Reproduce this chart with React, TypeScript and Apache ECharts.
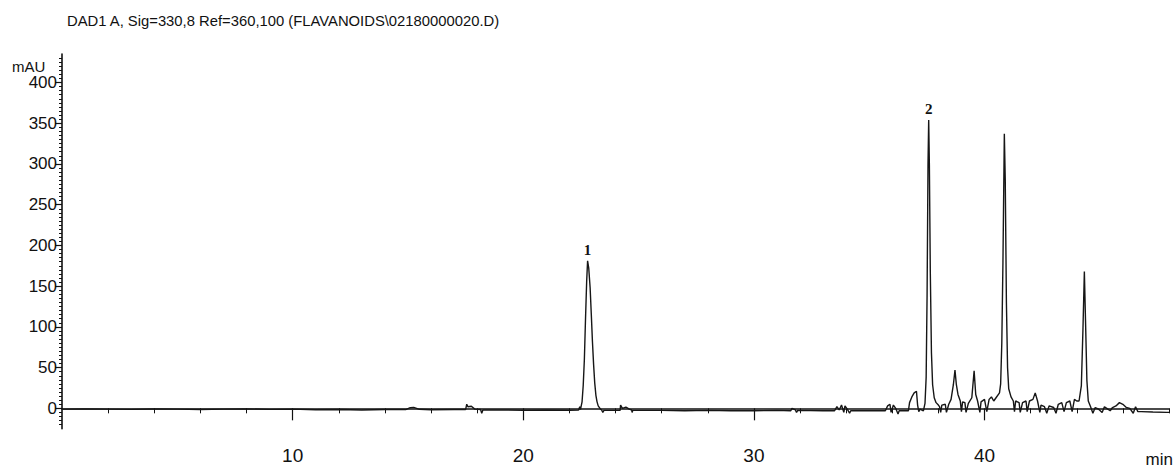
import React, { useEffect, useRef } from "react";
import * as echarts from "echarts";

const titleText = "DAD1 A, Sig=330,8 Ref=360,100 (FLAVANOIDS\\02180000020.D)";
const yUnit = "mAU";
const xUnit = "min";

const yMajorTicks = [0, 50, 100, 150, 200, 250, 300, 350, 400];
const yMinorTicks = [
  -20, -15, -10, -5, 5, 10, 15, 20, 25, 30, 35, 40, 45, 55, 60, 65, 70, 75, 80, 85, 90, 95,
  105, 110, 115, 120, 125, 130, 135, 140, 145, 155, 160, 165, 170, 175, 180, 185, 190, 195,
  205, 210, 215, 220, 225, 230, 235, 240, 245, 255, 260, 265, 270, 275, 280, 285, 290, 295,
  305, 310, 315, 320, 325, 330, 335, 340, 345, 355, 360, 365, 370, 375, 380, 385, 390, 395,
  405, 410, 415, 420, 425, 430,
];
const xMajorTicks = [10, 20, 30, 40];
const xMinorTicks = [2, 4, 6, 8, 12, 14, 16, 18, 22, 24, 26, 28, 32, 34, 36, 38, 42, 44, 46, 48];

// retention time (min)
const times = [
  0, 1, 2, 3, 4, 5, 6, 7, 8, 9, 10, 11, 12, 13, 14, 14.9, 15.1, 15.25, 15.5, 16, 17, 17.5,
  17.55, 17.6, 17.75, 17.9, 18.15, 18.2, 18.25, 19, 20, 21, 22, 22.4, 22.45, 22.48,
  22.55, 22.6, 22.65, 22.7, 22.75, 22.79, 22.84, 22.9, 22.95, 23.0, 23.05, 23.1, 23.15, 23.2,
  23.25, 23.35, 23.4, 23.45, 23.5, 24, 24.2, 24.22, 24.3, 24.45, 24.6, 24.7, 24.72, 24.75,
  26, 27, 28, 29, 30, 31, 31.6, 31.65, 31.8, 31.85, 31.9, 33, 33.5, 33.6, 33.7, 33.8, 33.9,
  33.95, 34.05, 34.15, 34.2, 35, 35.7, 35.8, 35.9, 35.95, 36.05, 36.15, 36.25, 36.3, 36.7,
  36.75, 36.85, 36.95, 37.05, 37.1, 37.15, 37.2, 37.35, 37.42, 37.47, 37.51, 37.55, 37.58,
  37.61, 37.65, 37.7, 37.75, 37.82, 37.9, 38.0, 38.05, 38.1, 38.15, 38.3, 38.35, 38.45, 38.55,
  38.65, 38.72, 38.78, 38.85, 38.95, 39.0, 39.05, 39.15, 39.2, 39.3, 39.45, 39.55, 39.62,
  39.7, 39.8, 39.85, 40.0, 40.1, 40.2, 40.3, 40.4, 40.5, 40.65, 40.7, 40.75, 40.8, 40.86,
  40.9, 40.95, 41.0, 41.05, 41.15, 41.25, 41.3, 41.35, 41.5, 41.55, 41.65, 41.8, 41.85, 41.95,
  42.1, 42.2, 42.3, 42.4, 42.45, 42.6, 42.7, 42.8, 43.0, 43.1, 43.2, 43.35, 43.45, 43.55, 43.7,
  43.8, 43.9, 44.0, 44.1, 44.2, 44.27, 44.33, 44.38, 44.44, 44.5, 44.6, 44.7, 44.8, 44.95,
  45.1, 45.2, 45.3, 45.45, 45.55, 45.7, 45.85, 46.0, 46.15, 46.3, 46.45, 46.55, 46.65, 46.8,
  47.3, 47.9, 48,
];

// absorbance (mAU)
const absorbance = [
  -1, -0.7, -1, -1.3, -0.8, -1, -1.5, -1, -0.7, -1.3, -1, -1.8, -1.5, -2, -1.5, -1.5, 0.8, 1.2,
  -1.2, -1.8, -1.5, -1.5, 5, 2, 2.5, -1, -1.5, -6, -2, -2, -2.3, -2, -2.3, -2, 2, -1.5,
  8, 28, 60, 110, 156, 181, 172, 148, 116, 82, 54, 31, 16, 8,
  3, -1, -2, -5, -2.5, -2.5, -2.5, 4, 0, 1.5, -1, -2, -5, -2.5,
  -2.5, -3, -2.5, -3, -3, -2.5, -3, 0, -2, -5, -2.5, -3, -3, 2, -2, 4, -5,
  3, -1, -6, -3, -3, -3, 3, 5, -5, 4, 0, -7, -3, -3,
  7, 14, 19, 21, 4, -4, -1, -3, 6, 38, 138, 298, 354,
  298, 168, 68, 29, 13, 7, 4, 2, -5, 4, 5, -5, 5, 11,
  29, 47, 29, 17, 9, -4, 8, 7, -5, 6, 13, 46, 17,
  9, -5, 8, 11, -4, 11, 14, 9, 13, 19, 30, 80, 180, 337,
  280, 130, 50, 24, 14, 9, -4, 9, 7, -5, 7, 9, -4, 9,
  11, 19, 9, -5, 4, 2, -6, 3, 1, -6, 5, 7, -4, 7, 9,
  -4, 11, 9, 9, 28, 98, 168, 108, 34, 9, 2, -6, 1, -1,
  -5, 2, 0, -3, 1, 3, 7, 5, 1, 0, -6, 2, -4, -4,
  -4.5, -5, -5,
];

const peakLabels = [
  { name: "1", time: 22.79, value: 181 },
  { name: "2", time: 37.58, value: 354 },
];

export default function App() {
  const ref = useRef<HTMLDivElement>(null);
  useEffect(() => {
    if (!ref.current) return;
    const chart = echarts.init(ref.current, null, { renderer: "svg" });
    const axisColor = "#111";
    const labelFont = "Liberation Sans";
    chart.setOption({
      animation: false,
      backgroundColor: "#ffffff",
      grid: { left: 62, right: 6, top: 54, bottom: 41.3, containLabel: false },
      xAxis: [
        {
          type: "value",
          min: 0,
          max: 48,
          position: "bottom",
          axisLine: { show: true, lineStyle: { color: axisColor, width: 1.6 } },
          axisTick: { show: true, customValues: xMajorTicks, length: 12, lineStyle: { color: axisColor, width: 1.2 } },
          axisLabel: {
            show: true,
            customValues: xMajorTicks,
            color: "#111",
            fontSize: 19,
            fontFamily: labelFont,
            margin: 17,
          },
          splitLine: { show: false },
        },
        {
          type: "value",
          min: 0,
          max: 48,
          position: "bottom",
          axisLine: { show: false },
          axisTick: { show: true, customValues: xMinorTicks, length: 5, lineStyle: { color: axisColor, width: 1 } },
          axisLabel: { show: false },
          splitLine: { show: false },
        },
      ],
      yAxis: [
        {
          type: "value",
          min: -25,
          max: 435,
          position: "left",
          axisLine: { show: true, lineStyle: { color: axisColor, width: 1.6 } },
          axisTick: { show: true, customValues: yMajorTicks, length: 7, lineStyle: { color: axisColor, width: 1.2 } },
          axisLabel: {
            show: true,
            customValues: yMajorTicks,
            color: "#111",
            fontSize: 17,
            fontFamily: labelFont,
            margin: 5,
          },
          splitLine: { show: false },
        },
        {
          type: "value",
          min: -25,
          max: 435,
          position: "left",
          axisLine: { show: false },
          axisTick: { show: true, customValues: yMinorTicks, length: 3, lineStyle: { color: axisColor, width: 1 } },
          axisLabel: { show: false },
          splitLine: { show: false },
        },
      ],
      graphic: [
        {
          type: "text",
          left: 67,
          top: 13,
          style: { text: titleText, fill: "#111", font: `14.8px ${labelFont}` },
        },
        {
          type: "text",
          left: 12,
          top: 59,
          style: { text: yUnit, fill: "#111", font: `15px ${labelFont}` },
        },
        {
          type: "text",
          right: 2,
          top: 451,
          style: { text: xUnit, fill: "#111", font: `17px ${labelFont}` },
        },
      ],
      series: [
        {
          type: "line",
          xAxisIndex: 0,
          yAxisIndex: 0,
          data: times.map((t, i) => [t, absorbance[i]]),
          showSymbol: false,
          symbol: "none",
          lineStyle: { color: "#161616", width: 1.4 },
          clip: true,
          markPoint: {
            symbol: "circle",
            symbolSize: 0,
            data: peakLabels.map((p) => ({
              coord: [p.time, p.value],
              value: p.name,
              label: {
                show: true,
                position: "top",
                distance: 3,
                formatter: p.name,
                color: "#111",
                fontFamily: "Liberation Serif",
                fontWeight: "bold",
                fontSize: 15,
              },
            })),
          },
        },
      ],
    });
    return () => chart.dispose();
  }, []);
  return (
    <div
      ref={ref}
      style={{ position: "fixed", left: 0, top: 0, width: 1175, height: 470, background: "#fff" }}
    />
  );
}
